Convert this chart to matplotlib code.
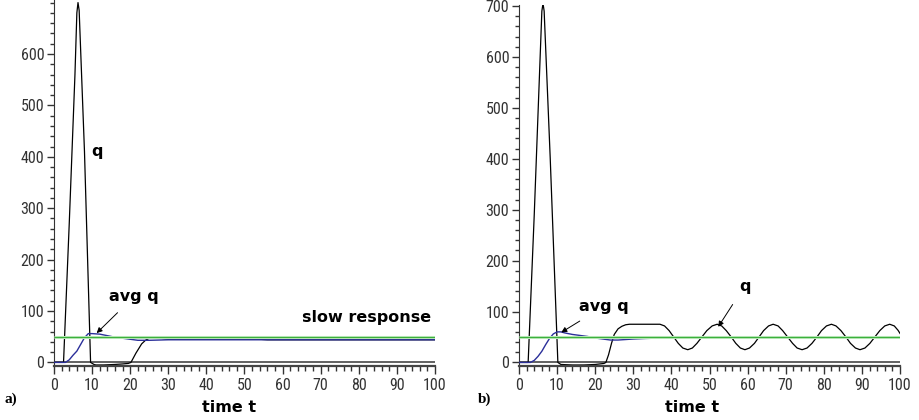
import matplotlib
matplotlib.use("Agg")
import matplotlib.pyplot as plt
from matplotlib import font_manager
from matplotlib.ticker import MultipleLocator

# ---------------- data ----------------
# panel a) slow response
t_q_a = [0, 2.5, 4.0, 5.5, 6.0, 6.3, 6.6, 8.0, 9.6, 10.5, 11, 13, 16, 18, 19.5, 20.2,
         21.5, 23, 24, 25, 27, 30, 54, 56, 100]
q_a = [0, 0, 270, 560, 680, 700, 685, 410, 0, -4, -5, -5, -4, -3, -2, 0,
       18, 36, 43, 47, 48, 45, 45, 44, 44]
t_avg_a = [0, 3, 4, 5, 6, 7, 8, 9, 10, 12, 14, 16, 18, 20, 22, 25, 30, 100]
avg_a = [0, 0, 5, 14, 22, 35, 48, 56, 56, 55, 52, 49, 47, 45, 43, 43, 44, 44]

# panel b) oscillating response
t_q_b = [0, 2.4, 4.0, 5.5, 6.0, 6.3, 6.6, 8.2, 10.2, 11, 14, 17, 20, 22.3, 22.8, 23.5,
         24.3, 25, 26, 27, 28, 29, 36, 37,
         38.2, 39.4, 40.6, 41.8, 43.0, 44.3,
         45.5, 46.7, 48.0, 49.3, 50.7, 52.0,
         53.2, 54.4, 55.7, 56.9, 58.1, 59.3,
         60.5, 61.8, 63.0, 64.2, 65.5, 66.7,
         68.0, 69.2, 70.5, 71.8, 73.0, 74.3,
         75.6, 76.9, 78.2, 79.4, 80.7, 82.0,
         83.2, 84.5, 85.8, 87.0, 88.3, 89.5,
         90.8, 92.1, 93.4, 94.7, 96.0, 97.3,
         98.5, 99.5, 100]
q_b = [0, 0, 290, 590, 690, 705, 690, 400, 0, -4, -5, -5, -4, -2, 0, 15,
       38, 55, 66, 71, 74, 75, 75, 75,
       71.7, 62.5, 50, 37.5, 28.3, 25,
       28.3, 37.5, 50, 62.5, 71.7, 75,
       71.7, 62.5, 50, 37.5, 28.3, 25,
       28.3, 37.5, 50, 62.5, 71.7, 75,
       71.7, 62.5, 50, 37.5, 28.3, 25,
       28.3, 37.5, 50, 62.5, 71.7, 75,
       71.7, 62.5, 50, 37.5, 28.3, 25,
       28.3, 37.5, 50, 62.5, 71.7, 75,
       71.7, 63, 57]
t_avg_b = [0, 3, 4, 5, 6, 7, 8, 9, 10, 11, 12, 14, 16, 18, 20, 22, 24, 26, 28, 30, 33, 35,
           40, 45, 46, 49, 50, 60, 61, 64, 65, 75, 76, 79, 80, 90, 91, 94, 95, 100]
avg_b = [0, 0, 4, 12, 22, 35, 47, 56, 60, 60, 58, 55, 53, 51, 48, 46, 44, 44, 45, 46, 47, 47.5,
         49.5, 49, 47.5, 47.5, 49.5, 49, 47.5, 47.5, 49.5, 49, 47.5, 47.5, 49.5, 49, 47.5, 47.5, 49.5, 49.5]

target = 50
x_ticks = list(range(0, 101, 10))
y_ticks_a = [0, 100, 200, 300, 400, 500, 600]
y_ticks_b = [0, 100, 200, 300, 400, 500, 600, 700]

# ---------------- fonts ----------------
avail = {f.name for f in font_manager.fontManager.ttflist}
tick_font = next((f for f in ["Liberation Sans Narrow", "DejaVu Sans Condensed", "Roboto Condensed"]
                  if f in avail), "DejaVu Sans")
serif_font = "Liberation Serif" if "Liberation Serif" in avail else "DejaVu Serif"

fig = plt.figure(figsize=(9.2, 4.2), dpi=100)
W, H = 920, 420

def make_ax(left_px, top_px):
    right_px = left_px + 381
    bottom_px = 366
    return fig.add_axes([left_px / W, 1 - bottom_px / H, (right_px - left_px) / W,
                         (bottom_px - top_px) / H])

ax_a = make_ax(54, 0)
ax_b = make_ax(519, 5)

def style(ax, yticks, ymax):
    ax.set_xlim(0, 100)
    ax.set_ylim(-7, ymax)
    for s in ["top", "right"]:
        ax.spines[s].set_visible(False)
    ax.spines["left"].set_color("#333333")
    ax.spines["bottom"].set_color("#444444")
    ax.spines["bottom"].set_linewidth(1.6)
    ax.set_xticks(x_ticks)
    ax.set_yticks(yticks)
    ax.xaxis.set_minor_locator(MultipleLocator(2))
    ax.yaxis.set_minor_locator(MultipleLocator(20))
    ax.tick_params(axis="x", which="major", length=6, width=1, color="#333333", pad=3,
                   labelsize=11.5, labelcolor="#333333")
    ax.tick_params(axis="x", which="minor", length=3.5, width=1, color="#333333")
    ax.tick_params(axis="y", which="major", length=5, width=1, color="#333333", pad=2,
                   labelsize=11.5, labelcolor="#333333")
    ax.tick_params(axis="y", which="minor", length=3, width=1, color="#333333")
    for lab in ax.get_xticklabels() + ax.get_yticklabels():
        lab.set_family(tick_font)
    ax.axhline(0, color="#555555", lw=1.3, zorder=1)

def target_line(ax):
    ax.plot([0, 100], [target, target], color="#c4ecc4", lw=2.2, zorder=4, solid_capstyle="butt")
    ax.plot([0, 100], [target, target], color="#3cb03c", lw=0.9, zorder=5, solid_capstyle="butt")

style(ax_a, y_ticks_a, 705)
style(ax_b, y_ticks_b, 702)

# panel a
ax_a.plot(t_q_a, q_a, color="black", lw=0.9, zorder=2)
ax_a.plot(t_avg_a, avg_a, color="#2b2f9a", lw=1.0, zorder=3)
target_line(ax_a)
bold = dict(fontsize=11.5, fontweight="bold", family="DejaVu Sans", color="black")
ax_a.text(11.3, 410, "q", ha="center", va="center", **bold)
ax_a.annotate("avg q", xy=(11.2, 57), xytext=(21, 128), ha="center", va="center",
              arrowprops=dict(arrowstyle="-|>", color="black", lw=0.7, mutation_scale=8,
                              shrinkA=6, shrinkB=0), zorder=6, **bold)
ax_a.text(99, 88, "slow response", ha="right", va="center", **bold)

# panel b
ax_b.plot(t_q_b, q_b, color="black", lw=0.9, zorder=2)
ax_b.plot(t_avg_b, avg_b, color="#2b2f9a", lw=1.0, zorder=3)
target_line(ax_b)
ax_b.annotate("avg q", xy=(11.1, 59), xytext=(22.2, 110), ha="center", va="center",
              arrowprops=dict(arrowstyle="-|>", color="black", lw=0.7, mutation_scale=8,
                              shrinkA=6, shrinkB=0), zorder=6, **bold)
ax_b.annotate("q", xy=(52.3, 70), xytext=(59.2, 150), ha="center", va="center",
              arrowprops=dict(arrowstyle="-|>", color="black", lw=0.7, mutation_scale=8,
                              shrinkA=7, shrinkB=0), zorder=6, **bold)

# axis titles and panel letters
fig.text(229 / W, 1 - 407 / H, "time t", ha="center", va="center", **bold)
fig.text(692 / W, 1 - 407 / H, "time t", ha="center", va="center", **bold)
fig.text(5 / W, 1 - 399 / H, "a)", ha="left", va="center", fontsize=11, fontweight="bold",
         family=serif_font)
fig.text(478 / W, 1 - 399 / H, "b)", ha="left", va="center", fontsize=11, fontweight="bold",
         family=serif_font)

fig.savefig("out.png", dpi=100)
